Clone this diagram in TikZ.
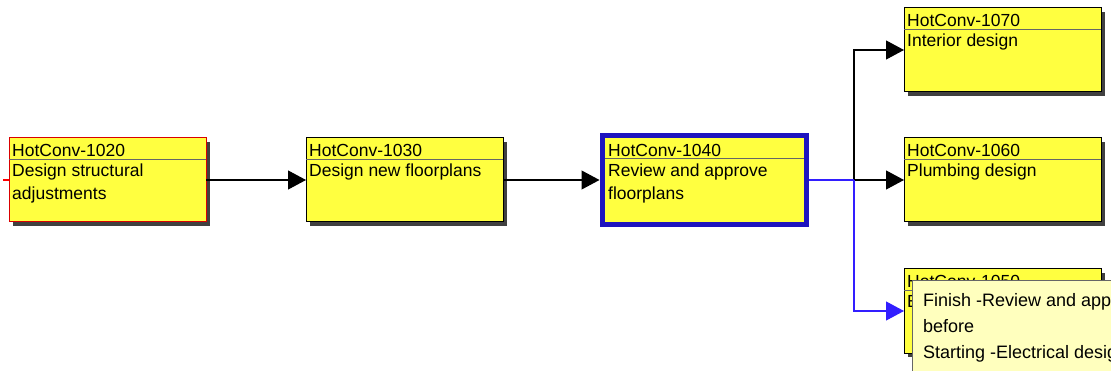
\documentclass[tikz,border=0pt]{standalone}
\usepackage{fontspec}
\setmainfont{Liberation Sans}
\usetikzlibrary{arrows.meta,shadows}
\definecolor{boxyellow}{RGB}{255,255,64}
\definecolor{tipyellow}{RGB}{255,255,190}
\definecolor{selborder}{RGB}{30,20,190}
\definecolor{selline}{RGB}{50,30,255}
\newcommand\mytask[7][task]{%
  \node[#1] (#2) at (#3,#4) {};
  \draw[sepline] ([yshift=-21pt]#2.north west) -- ([yshift=-21pt]#2.north east);
  \node[txt] (#2-h) at ([xshift=3pt,yshift=-19pt]#2.north west) {#5};
  \node[txt] (#2-a) at ([xshift=3pt,yshift=-39pt]#2.north west) {#6};
  \node[txt] (#2-b) at ([xshift=3pt,yshift=-62pt]#2.north west) {#7};
}
\begin{document}
\begin{tikzpicture}[x=1pt,y=-1pt,
  task/.style={draw=black, line width=1pt, fill=boxyellow, minimum width=197pt,
    minimum height=84pt, inner sep=0pt, outer sep=0pt, anchor=north west,
    drop shadow={shadow xshift=4pt,shadow yshift=-4pt,fill=black!75,opacity=1}},
  redtask/.style={task, draw=red!85!black},
  seltask/.style={draw=selborder, line width=5pt, fill=boxyellow, minimum width=204pt,
    minimum height=89pt, inner sep=0pt, anchor=center},
  sepline/.style={line width=0.8pt, draw=black!60},
  txt/.style={anchor=base west, inner sep=0pt, font=\fontsize{17.5}{20}\selectfont},
  tiptxt/.style={anchor=base west, inner sep=0pt, font=\fontsize{18}{22}\selectfont},
  tipbox/.style={draw=black!60, line width=0.8pt, fill=tipyellow, anchor=north west,
    minimum width=230pt, minimum height=110pt, inner sep=0pt, outer sep=0pt},
  arr/.style={line width=1.1pt, -{Triangle[length=18pt,width=19pt]}},
]
\useasboundingbox (0,0) rectangle (1111,371);
\clip (0,0) rectangle (1111,371);

\mytask[redtask]{b1020}{9}{138}{HotConv-1020}{Design structural}{adjustments}
\mytask{b1030}{306}{138}{HotConv-1030}{Design new floorplans}{}
\mytask{b1070}{904}{8}{HotConv-1070}{Interior design}{}
\mytask{b1060}{904}{138}{HotConv-1060}{Plumbing design}{}
\mytask{b1050}{904}{269}{HotConv-1050}{Electrical design}{}

% selected task
\node[seltask] (b1040) at (704,180) {};
\draw[sepline] ([xshift=5pt,yshift=-25.5pt]b1040.north west) -- ([xshift=-5pt,yshift=-25.5pt]b1040.north east);
\node[txt] (b1040-h) at ([xshift=8.5pt,yshift=-23.5pt]b1040.north west) {HotConv-1040};
\node[txt] (b1040-a) at ([xshift=8.5pt,yshift=-43.5pt]b1040.north west) {Review and approve};
\node[txt] (b1040-b) at ([xshift=8.5pt,yshift=-66.5pt]b1040.north west) {floorplans};

% incoming stub
\coordinate (rs) at (3,180);
\draw[red, line width=2pt] (rs) -- (b1020.west);

% connectors
\coordinate (j) at (854,180);
\draw[arr] (b1020.east) -- (b1030.west);
\draw[arr] (b1030.east) -- (b1040.west);
\draw[arr] (j) |- (b1070.west);
\draw[arr] (j) -- (b1060.west);
\draw[line width=1.1pt, selline] (b1040.east) -- (j);
\draw[arr, selline] (j) |- (b1050.west);

% tooltip
\node[tipbox] (tt) at (912,280) {};
\node[tiptxt] (tt-a) at ([xshift=11pt,yshift=-27pt]tt.north west) {Finish -Review and approve floorplans};
\node[tiptxt] (tt-b) at ([xshift=11pt,yshift=-53pt]tt.north west) {before};
\node[tiptxt] (tt-c) at ([xshift=11pt,yshift=-78pt]tt.north west) {Starting -Electrical design};
\end{tikzpicture}
\end{document}
